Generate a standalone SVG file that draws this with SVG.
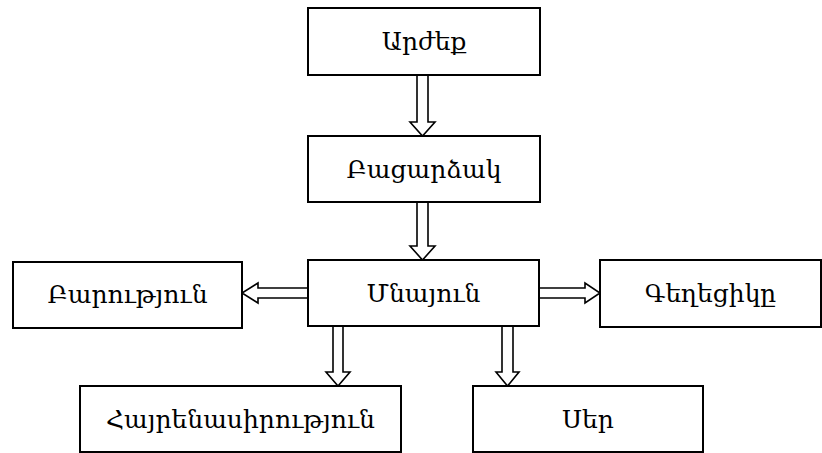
<svg xmlns="http://www.w3.org/2000/svg" width="822" height="453" viewBox="0 0 822 453">
<style>
.box{fill:#fff;stroke:#000;stroke-width:2}
.arr{fill:#fff;stroke:#000;stroke-width:1.6;stroke-linejoin:miter}
text{font-family:"DejaVu Serif","Noto Serif",serif;font-size:25px;text-anchor:middle;fill:#000}
</style>
<rect width="822" height="453" fill="#fff"/>
<g id="connectors">
<polygon class="arr" points="417,75 428,75 428,122 435,122 422.5,136 410,122 417,122"/>
<polygon class="arr" points="417,202 428,202 428,246 435,246 422.5,260 410,246 417,246"/>
<polygon class="arr" points="308,288 258,288 258,283 242,293 258,303 258,298 308,298"/>
<polygon class="arr" points="539,288 585,288 585,283 600,293 585,303 585,298 539,298"/>
<polygon class="arr" points="333,326 343,326 343,372 350,372 338,386 326,372 333,372"/>
<polygon class="arr" points="502,326 513,326 513,372 519,372 507.5,386 496,372 502,372"/>
</g>
<g id="n-arzheq"><rect class="box" x="308" y="8" width="232" height="67"/><text x="424" y="50">Արժեք</text></g>
<g id="n-bacardzak"><rect class="box" x="308" y="136" width="232" height="66"/><text x="424" y="178">Բացարձակ</text></g>
<g id="n-mnayun"><rect class="box" x="308" y="260" width="231" height="66"/><text x="423.5" y="302">Մնայուն</text></g>
<g id="n-barutyun"><rect class="box" x="13" y="262" width="229" height="66"/><text x="127.5" y="303">Բարություն</text></g>
<g id="n-geghecik"><rect class="box" x="600" y="260" width="221" height="67"/><text x="710.5" y="302">Գեղեցիկը</text></g>
<g id="n-hayrenasirutyun"><rect class="box" x="80" y="386" width="321" height="66"/><text x="240.5" y="428">Հայրենասիրություն</text></g>
<g id="n-ser"><rect class="box" x="473" y="386" width="230" height="66"/><text x="588" y="428">Սեր</text></g>
</svg>
